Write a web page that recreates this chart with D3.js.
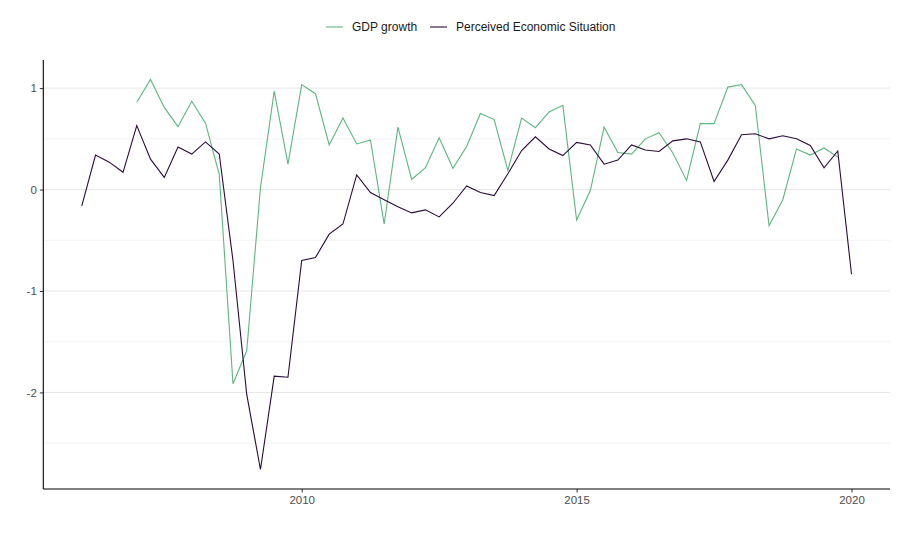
<!DOCTYPE html>
<html><head><meta charset="utf-8">
<script src="https://cdn.jsdelivr.net/npm/d3@7"></script>
<style>body{margin:0;background:#fff}svg{display:block}text{font-family:"Liberation Sans",Arial,sans-serif}</style>
</head><body><svg id="c" width="897" height="533"></svg>
<script>
const perceivedStart = 2006.0;
const perceived = [-0.16,0.34,0.27,0.17,0.63,0.30,0.12,0.42,0.35,0.47,0.35,-0.70,-2.02,-2.76,-1.84,-1.85,
 -0.70,-0.67,-0.44,-0.34,0.145,-0.03,-0.10,-0.17,-0.23,-0.20,-0.27,-0.135,0.036,-0.03,-0.06,0.155,
 0.385,0.52,0.40,0.335,0.465,0.44,0.25,0.29,0.44,0.39,0.375,0.48,0.50,0.47,0.08,0.29,
 0.54,0.55,0.50,0.53,0.50,0.435,0.215,0.38,-0.835];
const gdpStart = 2007.0;
const gdp = [0.86,1.085,0.81,0.62,0.87,0.655,0.15,-1.915,-1.59,0.02,0.97,0.25,
 1.035,0.945,0.44,0.705,0.45,0.49,-0.34,0.615,0.10,0.215,0.51,0.21,0.425,0.75,0.69,0.19,
 0.705,0.61,0.765,0.83,-0.30,-0.01,0.615,0.365,0.35,0.50,0.56,0.36,0.09,0.65,0.65,1.01,
 1.035,0.83,-0.356,-0.10,0.40,0.34,0.41,0.32];
const xTicks = [2010, 2015, 2020];
const yTicks = [-2, -1, 0, 1];
const yTickLabels = ["-2", "-1", "0", "1"];
const yMinor = [-2.5, -1.5, -0.5, 0.5];
const seriesNames = ["GDP growth", "Perceived Economic Situation"];
const colors = ["#5db67f", "#2b0b3a"];

const toPts = (start, arr) => arr.map((v, i) => ({t: start + i * 0.25, v}));
const series = [toPts(gdpStart, gdp), toPts(perceivedStart, perceived)];

const L = 43.3, R = 890, T = 60, B = 489;
const all = series.flat();
const tExt = d3.extent(all, d => d.t), vExt = d3.extent(all, d => d.v);
const tPad = (tExt[1]-tExt[0])*0.05, vPad = (vExt[1]-vExt[0])*0.05;
const x = d3.scaleLinear().domain([tExt[0]-tPad, tExt[1]+tPad]).range([L, R]);
const y = d3.scaleLinear().domain([vExt[0]-vPad, vExt[1]+vPad]).range([B, T]);

const svg = d3.select("#c");
const g = svg.append("g");
g.selectAll(".minor").data(yMinor).join("line")
  .attr("x1", L).attr("x2", R).attr("y1", d=>y(d)).attr("y2", d=>y(d))
  .attr("stroke", "#ebebeb").attr("stroke-width", 0.6);
g.selectAll(".major").data(yTicks).join("line")
  .attr("x1", L).attr("x2", R).attr("y1", d=>y(d)).attr("y2", d=>y(d))
  .attr("stroke", "#e6e6e6").attr("stroke-width", 1);

const line = d3.line().x(d=>x(d.t)).y(d=>y(d.v));
series.forEach((s, i) => {
  g.append("path").datum(s).attr("d", line).attr("fill","none")
   .attr("stroke", colors[i]).attr("stroke-width", 1.1).attr("stroke-linejoin","miter");
});

const xAxis = d3.axisBottom(x).tickValues(xTicks).tickFormat(d3.format("d")).tickSize(3.5).tickPadding(3);
const yAxis = d3.axisLeft(y).tickValues(yTicks).tickFormat((d, i) => yTickLabels[i]).tickSize(3.5).tickPadding(3);
const gx = svg.append("g").attr("transform", `translate(0,${B})`).call(xAxis);
const gy = svg.append("g").attr("transform", `translate(${L},0)`).call(yAxis);
[gx, gy].forEach(a => {
  a.select(".domain").remove();
  a.selectAll(".tick line").attr("stroke", "#333");
  a.selectAll(".tick text").attr("fill", "#4d4d4d").style("font-size", "11.5px");
});
svg.append("line").attr("x1", L).attr("x2", R).attr("y1", B).attr("y2", B).attr("stroke","#000").attr("stroke-width",1.1);
svg.append("line").attr("x1", L).attr("x2", L).attr("y1", T).attr("y2", B).attr("stroke","#000").attr("stroke-width",1.1);

const leg = svg.append("g").attr("transform", "translate(0,27)");
const lx = [326, 430];
seriesNames.forEach((n, i) => {
  leg.append("line").attr("x1", lx[i]).attr("x2", lx[i]+17).attr("y1", 0).attr("y2", 0)
     .attr("stroke", colors[i]).attr("stroke-width", 1.1);
  leg.append("text").attr("x", lx[i]+26).attr("y", 4.3).text(n)
     .attr("fill", "#1a1a1a").style("font-size", "12px");
});
</script></body></html>
